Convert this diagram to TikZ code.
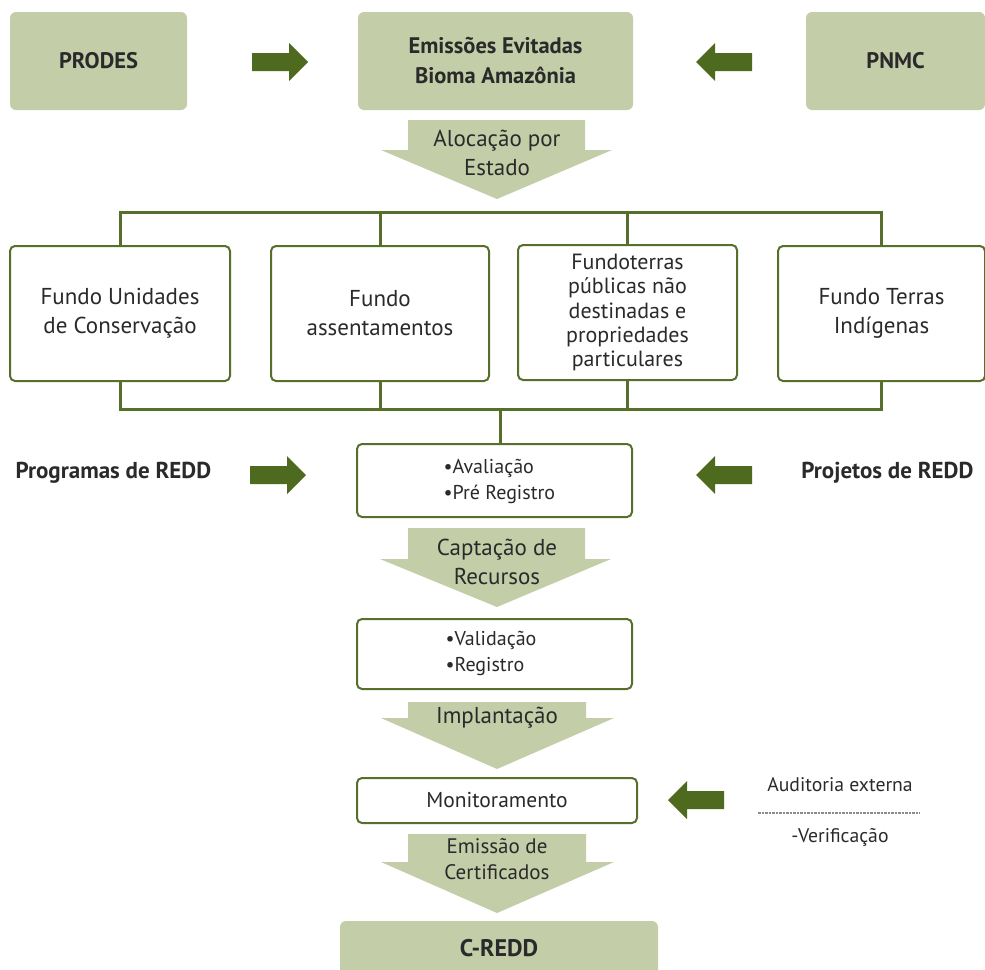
\documentclass[tikz,border=0pt]{standalone}
\usepackage{fontspec}
\setmainfont{PT Sans}
\usetikzlibrary{calc}
\definecolor{lg}{HTML}{C3CDA8}
\definecolor{dg}{HTML}{4E6A1E}
\definecolor{bd}{HTML}{56702C}
\definecolor{tx}{HTML}{2A2A2A}
\begin{document}
\begin{tikzpicture}[x=1pt,y=-1pt,
  greenbox/.style={fill=lg, rounded corners=6pt, inner sep=0pt, text=tx, align=center,
    font=\fontsize{22.5}{30}\selectfont\bfseries},
  fundbox/.style={draw=bd, line width=2pt, fill=white, rounded corners=5pt, inner sep=0pt,
    text=tx, align=center, minimum width=217pt, minimum height=135pt,
    font=\fontsize{23}{29}\selectfont},
  stepbox/.style={draw=bd, line width=2pt, fill=white, rounded corners=5pt, inner sep=0pt,
    text=tx, minimum width=275pt},
  bus/.style={draw=bd, line width=3pt},
  sidelabel/.style={text=tx, font=\fontsize{23}{26}\selectfont\bfseries},
  arrowtext/.style={text=tx, align=center, font=\fontsize{23}{29}\selectfont},
  smalltext/.style={text=tx, font=\fontsize{19.7}{22}\selectfont},
  sidearrow/.pic={\fill[dg] (0,-9) -- (37,-9) -- (37,-19) -- (56,0) -- (37,19) -- (37,9) -- (0,9) -- cycle;},
]
\useasboundingbox (0,0) rectangle (985,969);

% top row
\node[greenbox, minimum width=177pt, minimum height=98pt] (prodes) at (98.5,61) {PRODES};
\node[greenbox, minimum width=275pt, minimum height=98pt] (emis) at (495.5,61) {Emissões Evitadas\\Bioma Amazônia};
\node[greenbox, minimum width=179pt, minimum height=98pt] (pnmc) at (895.5,61) {PNMC};
\pic at (252,62) {sidearrow};
\pic[xscale=-1] at (752,62) {sidearrow};

% Alocação arrow
\fill[lg] (408,120) -- (585,120) -- (585,150) -- (612,150) -- (497,199) -- (381,150) -- (408,150) -- cycle;
\node[arrowtext] (aloc) at (497,153) {Alocação por\\Estado};

% fund boxes
\node[fundbox, minimum width=220pt] (f1) at (120,313.5) {Fundo Unidades\\de Conservação};
\node[fundbox, minimum width=218pt] (f2) at (380,313.5) {Fundo\\assentamentos};
\node[fundbox, minimum width=219pt, font=\fontsize{22}{24.3}\selectfont] (f3) at (627.5,312.5) {Fundoterras\\públicas não\\destinadas e\\propriedades\\particulares};
\node[fundbox, minimum width=207pt] (f4) at (881.5,313.5) {Fundo Terras\\Indígenas};

\coordinate (bust) at (0,212);
\coordinate (busb) at (500,409);
\draw[bus] (f1.north) -- (f1.north |- bust) -- (f4.north |- bust) -- (f4.north);
\draw[bus] (f2.north) -- (f2.north |- bust);
\draw[bus] (f3.north) -- (f3.north |- bust);
\draw[bus] (f1.south) -- (f1.south |- busb) -- (f4.south |- busb) -- (f4.south);
\draw[bus] (f2.south) -- (f2.south |- busb);
\draw[bus] (f3.south) -- (f3.south |- busb);

% Avaliação
\node[stepbox, minimum height=73pt] (aval) at (494.5,480.5) {};
\node[text=tx, align=left, font=\fontsize{20}{26}\selectfont, anchor=west] (avaltxt) at (440,481) {•Avaliação\\•Pré Registro};
\draw[bus] (busb) -- (busb |- aval.north);

\node[sidelabel, anchor=west] (prog) at (12,473) {Programas de REDD};
\node[sidelabel, anchor=east] (proj) at (977,473) {Projetos de REDD};
\pic at (250,475) {sidearrow};
\pic[xscale=-1] at (752,475) {sidearrow};

% Captação arrow
\fill[lg] (408,528) -- (585,528) -- (585,559) -- (611,559) -- (497,607) -- (380,559) -- (408,559) -- cycle;
\node[arrowtext] (capt) at (497,562) {Captação de\\Recursos};

% Validação
\node[stepbox, minimum height=70pt] (valid) at (494.5,654) {};
\node[text=tx, align=left, font=\fontsize{20}{26}\selectfont, anchor=west] (validtxt) at (442,653) {•Validação\\•Registro};

% Implantação arrow
\fill[lg] (408,702) -- (586,702) -- (586,718) -- (614,718) -- (497,769) -- (381,718) -- (408,718) -- cycle;
\node[arrowtext] (impl) at (497,718) {Implantação};

% Monitoramento
\node[stepbox, minimum width=280pt, minimum height=45pt, font=\fontsize{21.5}{24}\selectfont] (monit) at (497,800.5) {Monitoramento};
\pic[xscale=-1] at (724,800) {sidearrow};
\node[smalltext] (aud) at (840,785) {Auditoria externa};
\draw[black!45, line width=1.2pt, dash pattern=on 2.5pt off 1pt] (758,813) -- (920,813);
\node[smalltext] (verif) at (840,838) {-Verificação};

% Emissão arrow
\fill[lg] (408,834) -- (586,834) -- (586,862) -- (614,862) -- (497,913) -- (381,862) -- (408,862) -- cycle;
\node[arrowtext, font=\fontsize{21}{26}\selectfont] (emiss) at (497,859) {Emissão de\\Certificados};

% C-REDD
\node[greenbox, minimum width=318pt, minimum height=54pt, font=\fontsize{24}{26}\selectfont\bfseries] (credd) at (499,948) {C-REDD};
\end{tikzpicture}
\end{document}
